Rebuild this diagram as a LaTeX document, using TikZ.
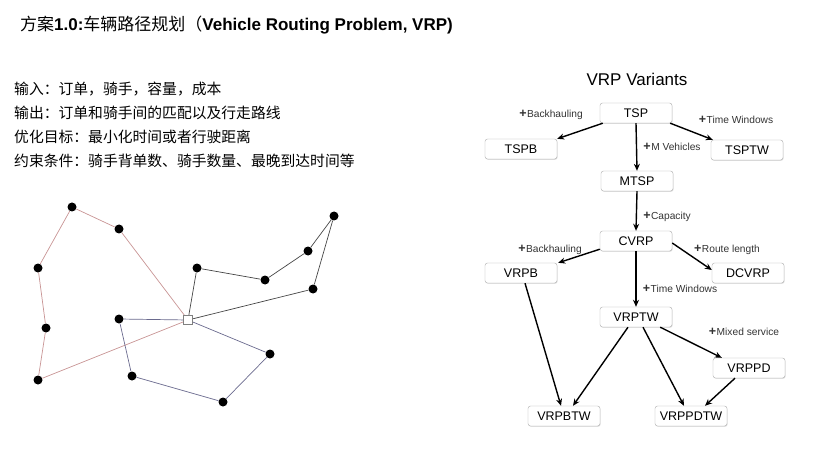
\documentclass[tikz,border=0pt]{standalone}
\usepackage{fontspec}
\setmainfont{Liberation Sans}
\newfontfamily\cjk{Noto Sans CJK SC}
\usetikzlibrary{arrows.meta,shadows}
\definecolor{redroute}{HTML}{C89494}
\definecolor{blueroute}{HTML}{6A6A8E}
\definecolor{blackroute}{HTML}{454545}
\definecolor{boxborder}{HTML}{ABABAB}
\tikzset{
  dot/.style={circle,fill=black,inner sep=0pt,minimum size=9pt},
  depot/.style={rectangle,draw=gray,fill=white,line width=0.6pt,inner sep=0pt,minimum size=9pt},
  route/.style={line width=0.7pt},
  vbox/.style={draw=boxborder,rounded corners=2.5pt,fill=white,minimum width=72pt,minimum height=20pt,inner sep=0pt,font=\fontsize{12.5}{14}\selectfont,drop shadow={shadow xshift=0.6pt,shadow yshift=-0.8pt,opacity=0.25}},
  varrow/.style={-{Stealth[length=7pt,width=6pt]},line width=1.4pt},
  plabel/.style={font=\fontsize{10.2}{12}\selectfont,text=black!80,inner sep=0pt},
  cjkline/.style={anchor=west,inner sep=0pt,font=\cjk\fontsize{14.8}{16}\selectfont}
}
\newcommand{\plus}{\textbf{\fontsize{12.5}{12}\selectfont +}\kern0.5pt}
\begin{document}
\begin{tikzpicture}[x=1pt,y=-1pt]
\useasboundingbox (0,0) rectangle (829,470);
% title
\node[anchor=west,inner sep=0pt] (title) at (20,25) {\fontsize{17}{19}\selectfont{\cjk 方案}\textbf{1.0:}{\cjk 车辆路径规划（}\textbf{Vehicle Routing Problem, VRP)}};
% text lines
\node[cjkline] (l1) at (14,89) {输入：订单，骑手，容量，成本};
\node[cjkline] (l2) at (14,113) {输出：订单和骑手间的匹配以及行走路线};
\node[cjkline] (l3) at (14,137) {优化目标：最小化时间或者行驶距离};
\node[cjkline] (l4) at (14,161) {约束条件：骑手背单数、骑手数量、最晚到达时间等};
% route graph
\node[dot] (a) at (72,207) {};
\node[dot] (b) at (119,229) {};
\node[dot] (c) at (38,268) {};
\node[dot] (d) at (46,328) {};
\node[dot] (e) at (38,380) {};
\node[dot] (f) at (119,319) {};
\node[dot] (g) at (132,376) {};
\node[dot] (h) at (223,402) {};
\node[dot] (i) at (270,354) {};
\node[dot] (j) at (197,268) {};
\node[dot] (k) at (265,280) {};
\node[dot] (l) at (308,251) {};
\node[dot] (m) at (334,216) {};
\node[dot] (n) at (313,289) {};
\coordinate (dc) at (188,320);
\draw[route,redroute] (e) -- (dc) -- (b) -- (a) -- (c) -- (d) -- (e);
\draw[route,blackroute] (dc) -- (j) -- (k) -- (l) -- (m) -- (n) -- (dc);
\draw[route,blueroute] (dc) -- (f) -- (g) -- (h) -- (i) -- (dc);
\node[depot] (dep) at (dc) {};
% VRP variants
\node[inner sep=0pt] (vtitle) at (637,79) {\fontsize{17}{20}\selectfont VRP Variants};
\node[vbox] (tsp) at (636,113) {TSP};
\node[vbox] (tspb) at (521,149) {TSPB};
\node[vbox] (tsptw) at (747,150) {TSPTW};
\node[vbox] (mtsp) at (637,181) {MTSP};
\node[vbox] (cvrp) at (636,241) {CVRP};
\node[vbox] (vrpb) at (521,273) {VRPB};
\node[vbox] (dcvrp) at (748,273) {DCVRP};
\node[vbox] (vrptw) at (636,317) {VRPTW};
\node[vbox] (vrppd) at (749,368) {VRPPD};
\node[vbox] (vrpbtw) at (564,416) {VRPBTW};
\node[vbox] (vrppdtw) at (691,416) {VRPPDTW};
% arrows
\draw[varrow] ([xshift=3pt]tsp.south west) -- (tspb.north east);
\draw[varrow] ([xshift=-2pt]tsp.south east) -- ([xshift=2pt]tsptw.north west);
\draw[varrow] (tsp.south) -- (mtsp.north);
\draw[varrow] (mtsp.south) -- (cvrp.north);
\draw[varrow] ([yshift=2pt]cvrp.south west) -- ([xshift=1pt]vrpb.north east);
\draw[varrow] ([yshift=-2pt]cvrp.east) -- ([yshift=3pt]dcvrp.west);
\draw[varrow] (cvrp.south) -- (vrptw.north);
\draw[varrow] ([xshift=4pt]vrpb.south) -- ([xshift=-3pt]vrpbtw.north);
\draw[varrow] ([xshift=-8pt]vrptw.south) -- ([xshift=9pt]vrpbtw.north);
\draw[varrow] ([xshift=7pt]vrptw.south) -- ([xshift=-7pt]vrppdtw.north);
\draw[varrow] ([xshift=-12pt]vrptw.south east) -- ([xshift=9pt]vrppd.north west);
\draw[varrow] ([xshift=-14pt]vrppd.south) -- ([xshift=14pt]vrppdtw.north);
% labels
\node[plabel] (lb1) at (551,115) {\plus Backhauling};
\node[plabel] (lb2) at (736,120) {\plus Time Windows};
\node[plabel] (lb3) at (672,147) {\plus M Vehicles};
\node[plabel] (lb4) at (667,217) {\plus Capacity};
\node[plabel] (lb5) at (550,250) {\plus Backhauling};
\node[plabel] (lb6) at (727,250) {\plus Route length};
\node[plabel] (lb7) at (680,289) {\plus Time Windows};
\node[plabel] (lb8) at (744,332) {\plus Mixed service};
\end{tikzpicture}
\end{document}
